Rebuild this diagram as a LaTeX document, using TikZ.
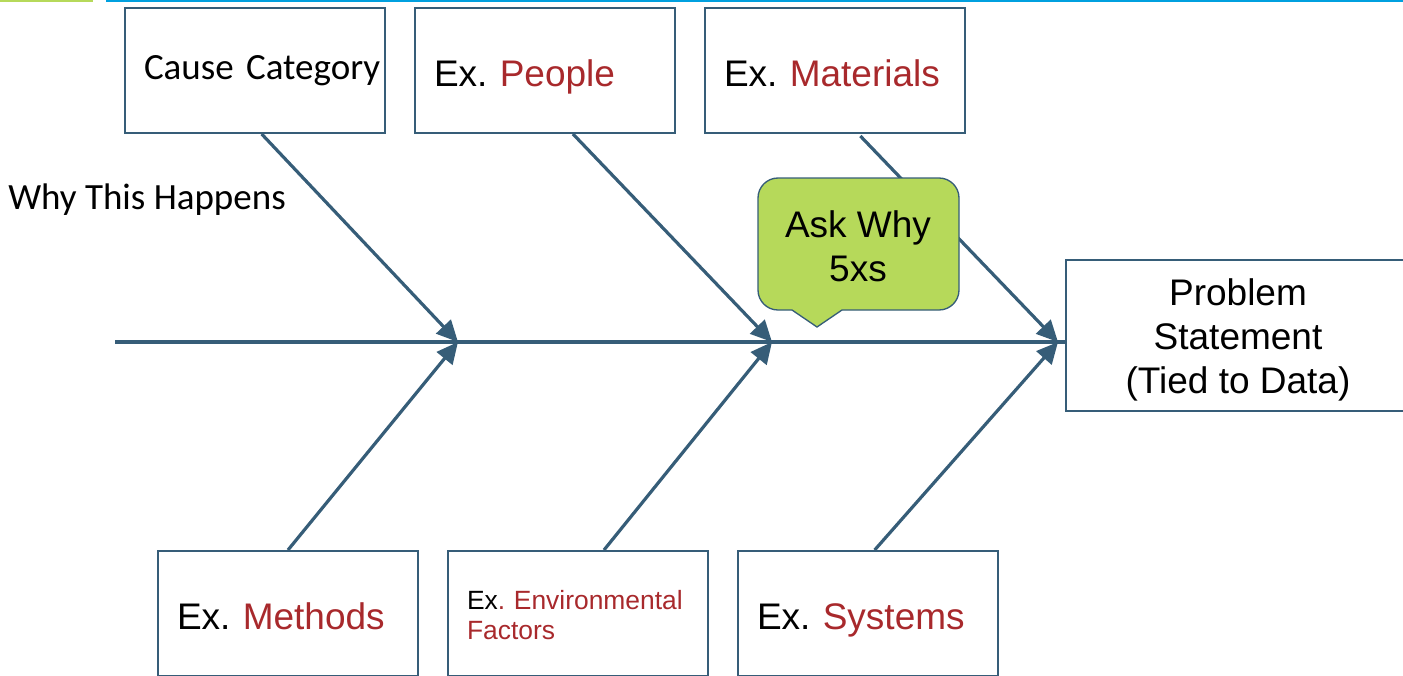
\documentclass[tikz,border=0pt]{standalone}
\usepackage{fontspec}
\setmainfont{Liberation Sans}
\newfontfamily\calibri{Carlito}
\usetikzlibrary{arrows.meta,positioning}

\definecolor{bonecol}{HTML}{365D78}
\definecolor{exred}{HTML}{A8292C}
\definecolor{askgreen}{HTML}{B6D95A}
\definecolor{topblue}{HTML}{00A0DF}

\newcommand{\ex}[1]{\rule[-8pt]{0pt}{39.8pt}\mbox{Ex. \textcolor{exred}{#1}}}
\frenchspacing

\begin{document}
\begin{tikzpicture}[x=0.75pt,y=-0.75pt,>={Triangle[length=16pt,width=15pt]},node distance=21pt,
    cat/.style={draw=bonecol,line width=1.5pt,minimum width=195pt,minimum height=93.75pt,
        text width=166.5pt,inner xsep=14.25pt,align=left,font=\fontsize{27.75}{33}\selectfont},
    bone/.style={color=bonecol,line width=2.4pt}]

    \useasboundingbox (0,0) rectangle (1403,675);
    \clip (0,0) rectangle (1403,675);

    % strip at the top
    \draw[askgreen,line width=1.5pt] (0,1) -- (93,1);
    \draw[topblue,line width=1.5pt] (106,1) -- (1403,1);

    % causes above the spine
    \node[cat] (cause) at (255,70.5) {\calibri\mbox{Cause Category}};
    \node[cat] (people) [right=of cause] {\ex{People}};
    \node[cat] (materials) [right=of people] {\ex{Materials}};

    % causes below the spine
    \node[cat] (methods) at (288,613.5) {\ex{Methods}};
    \node[cat,font=\fontsize{19.8}{22.5}\selectfont] (environment) [right=of methods]
        {\rule{0pt}{17pt}Ex\textcolor{exred}{. Environmental}\\\textcolor{exred}{Factors}};
    \node[cat] (systems) [right=of environment] {\ex{Systems}};

    \node[draw=bonecol,line width=1.5pt,minimum width=258pt,minimum height=113.25pt,align=center,
        font=\fontsize{27.75}{33}\selectfont] (problem) at (1238,335.5)
        {\rule{0pt}{26pt}Problem\\Statement\\(Tied to Data)};

    \node[anchor=west,inner sep=0pt,font=\calibri\fontsize{27.75}{33}\selectfont] (why) at (8,200) {Why This Happens};

    % spine and bones
    \coordinate (tail) at (115,342);
    \coordinate (h1) at (458,342);
    \coordinate (h2) at (772,342);
    \coordinate (h3) at (1058,342);

    \draw[bone] (tail) -- (tail -| problem.west);

    \path[->,bone] ([xshift=5pt]cause.south) edge (h1)
                   ([xshift=21pt]people.south) edge (h2)
                   ([xshift=19pt,yshift=-1.5pt]materials.south) edge (h3)
                   (methods.north) edge (h1)
                   ([xshift=19.5pt]environment.north) edge (h2)
                   ([xshift=5pt]systems.north) edge (h3);

    % callout
    \draw[fill=askgreen,draw=bonecol,line width=1pt] (817,327) -- (842,310)
        [rounded corners=15pt] -- (959,310) -- (959,178) -- (758,178) -- (758,310)
        [sharp corners] -- (792,310) -- cycle;
    \node[align=center,font=\fontsize{27.75}{33}\selectfont] (ask) at (858,246) {Ask Why\\5xs};

\end{tikzpicture}
\end{document}
